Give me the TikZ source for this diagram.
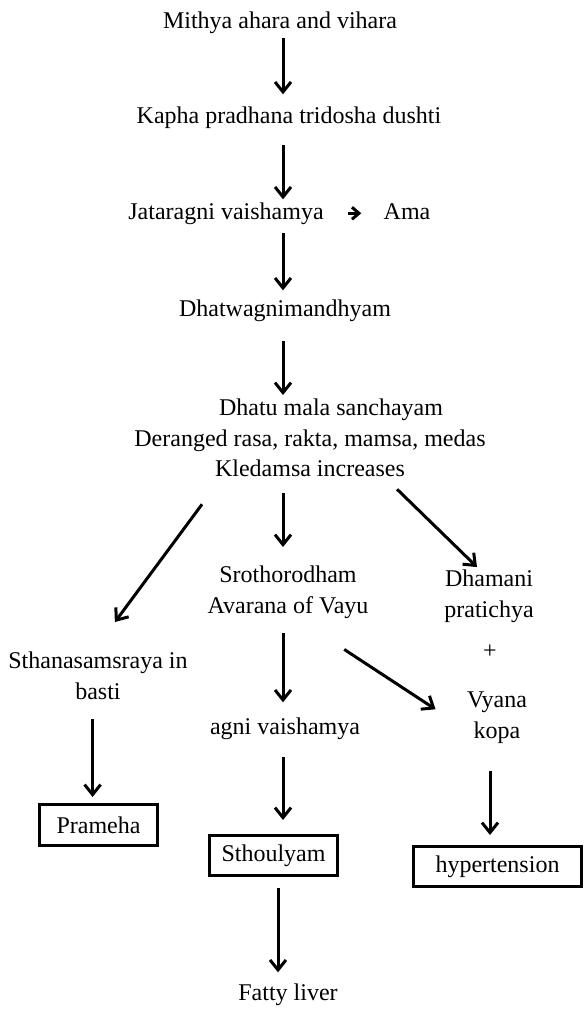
\documentclass[tikz,border=0pt]{standalone}
\usepackage{fontspec}
\setmainfont{Liberation Serif}
\usetikzlibrary{arrows.meta,positioning}

\begin{document}
\begin{tikzpicture}[x=0.5pt,y=-0.5pt,
  txt/.style={inner sep=0pt,font=\fontsize{12}{15.25}\selectfont,align=center},
  box/.style={txt,draw,line width=1.5pt},
  arr/.style={-{Straight Barb[length=5pt,width=8pt]},line width=1.5pt}]
\useasboundingbox (0,0) rectangle (584,1013);
\coordinate (spine) at (283,0);
% main chain
\node[txt,anchor=base] (mithya) at (280,28)  {Mithya ahara and vihara};
\node[txt,anchor=base] (kapha)  at (289,123) {Kapha pradhana tridosha dushti};
\node[txt,anchor=base] (jat)    at (226,219) {Jataragni vaishamya};
\node[txt,anchor=base] (ama)    at (407,219) {Ama};
\node[txt,anchor=base] (dhat)   at (285,316) {Dhatwagnimandhyam};
\node[txt,anchor=north] (dhatu) at (310,398.6)
  {\hspace*{21pt}Dhatu mala sanchayam\\Deranged rasa, rakta, mamsa, medas\\Kledamsa increases};
% branches
\node[txt,anchor=north] (sthan) at (98,651.6)  {Sthanasamsraya in\\basti};
\node[txt,anchor=north] (sroth) at (288,565.6) {Srothorodham\\Avarana of Vayu};
\node[txt,anchor=north] (dham)  at (489,569.6) {Dhamani\\pratichya};
\node[txt] (plus) at (490,652) {+};
\node[txt,anchor=north] (vyana) at (497,691.6) {Vyana\\kopa};
\node[txt,anchor=base] (agni)   at (285,734) {agni vaishamya};
% outcomes
\node[box,minimum width=59pt,minimum height=20.5pt] (prameha) at (98.5,825) {Prameha};
\node[box,minimum width=64pt,minimum height=20pt] (sthoul) at (273.5,855.5) {Sthoulyam};
\node[box,minimum width=84pt,minimum height=20pt] (hyper) at (497.5,866.5) {hypertension};
\node[txt,anchor=base] (fatty) at (288,1000) {Fatty liver};
% arrows
\draw[arr,shorten <=2.4pt,shorten >=5.8pt] (mithya.south -| spine) -- (kapha.north -| spine);
\draw[arr,shorten <=8.4pt,shorten >=1.3pt] (kapha.south -| spine) -- (jat.north -| spine);
\draw[-{Straight Barb[length=3.5pt,width=6pt]},line width=1.5pt,shorten <=12pt,shorten >=11pt]
  (jat.east) -- (jat.east -| ama.west);
\draw[arr,shorten <=4.4pt,shorten >=4.3pt] (jat.south -| spine) -- (dhat.north -| spine);
\draw[arr,shorten <=9.9pt,shorten >=1.8pt] (dhat.south -| spine) -- (dhatu.north -| spine);
\draw[arr,shorten <=8pt,shorten >=9.3pt] (dhatu.south -| spine) -- (sroth.north -| spine);
\draw[arr,shorten <=16.8pt,shorten >=18.4pt] ([xshift=-44pt]dhatu.south) -- ([xshift=-2.5pt]sthan.north);
\draw[arr,shorten <=8.6pt,shorten >=1.8pt] ([xshift=37.4pt]dhatu.south) -- ([xshift=-4.7pt]dham.north);
\draw[arr,shorten <=6.9pt,shorten >=7.3pt] (sroth.south -| spine) -- (agni.north -| spine);
\draw[arr,shorten <=28pt,shorten >=18.6pt] ([xshift=4.7pt]sroth.south) -- ([yshift=-6pt]vyana.west);
\draw[arr,shorten <=9.5pt,shorten >=3pt] ([xshift=-2.7pt]sthan.south) -- ([xshift=-2.7pt]sthan.south |- prameha.north);
\draw[arr,shorten <=8.9pt,shorten >=7pt] (agni.south -| spine) -- (sthoul.north -| spine);
\draw[arr,shorten <=13.4pt,shorten >=5pt] ([xshift=-3.5pt]vyana.south) -- ([xshift=-3.5pt]vyana.south |- hyper.north);
\draw[arr,shorten <=5.5pt,shorten >=5.3pt] ([xshift=-2.5pt]sthoul.south -| spine) -- ([xshift=-2.5pt]fatty.north -| spine);
\end{tikzpicture}
\end{document}
